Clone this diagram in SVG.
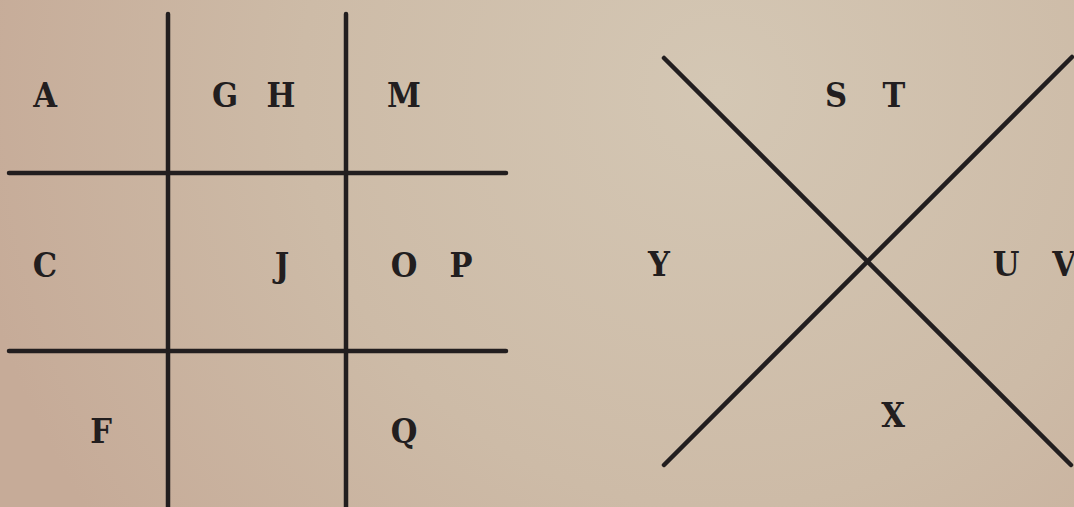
<svg xmlns="http://www.w3.org/2000/svg" width="1074" height="507" viewBox="0 0 1074 507">
<defs>
<radialGradient id="bg" gradientUnits="userSpaceOnUse" cx="720" cy="90" r="760">
<stop offset="0" stop-color="#d4c7b4"/>
<stop offset="0.55" stop-color="#cdbba7"/>
<stop offset="1" stop-color="#c6ab98"/>
</radialGradient>
<style>
.ln{stroke:#221e1f;stroke-width:4.5;stroke-linecap:round;fill:none}
.t{font-family:"DejaVu Serif Condensed","DejaVu Serif",serif;font-stretch:condensed;font-weight:bold;font-size:34px;fill:#221e1f;text-anchor:middle}
</style>
</defs>
<rect width="1074" height="507" fill="url(#bg)"/>
<g id="connectors">
<line class="ln" x1="168" y1="14" x2="168" y2="510"/>
<line class="ln" x1="346" y1="14" x2="346" y2="510"/>
<line class="ln" x1="9" y1="173" x2="506" y2="173"/>
<line class="ln" x1="9" y1="351" x2="506" y2="351"/>
<line class="ln" x1="664" y1="58" x2="1071" y2="465"/>
<line class="ln" x1="664" y1="465" x2="1072" y2="57"/>
</g>
<g id="A"><text class="t" x="45" y="107">A</text></g>
<g id="GH"><text class="t" y="107"><tspan x="225">G</tspan><tspan x="281">H</tspan></text></g>
<g id="M"><text class="t" x="404" y="107">M</text></g>
<g id="C"><text class="t" x="45" y="277">C</text></g>
<g id="J"><text class="t" x="282" y="277">J</text></g>
<g id="OP"><text class="t" y="277"><tspan x="404">O</tspan><tspan x="461">P</tspan></text></g>
<g id="F"><text class="t" x="101" y="443">F</text></g>
<g id="Q"><text class="t" x="404" y="443">Q</text></g>
<g id="ST"><text class="t" y="107"><tspan x="836">S</tspan><tspan x="894">T</tspan></text></g>
<g id="Y"><text class="t" x="659" y="276">Y</text></g>
<g id="UV"><text class="t" y="276"><tspan x="1006">U</tspan><tspan x="1064">V</tspan></text></g>
<g id="X"><text class="t" x="893" y="427">X</text></g>
</svg>
